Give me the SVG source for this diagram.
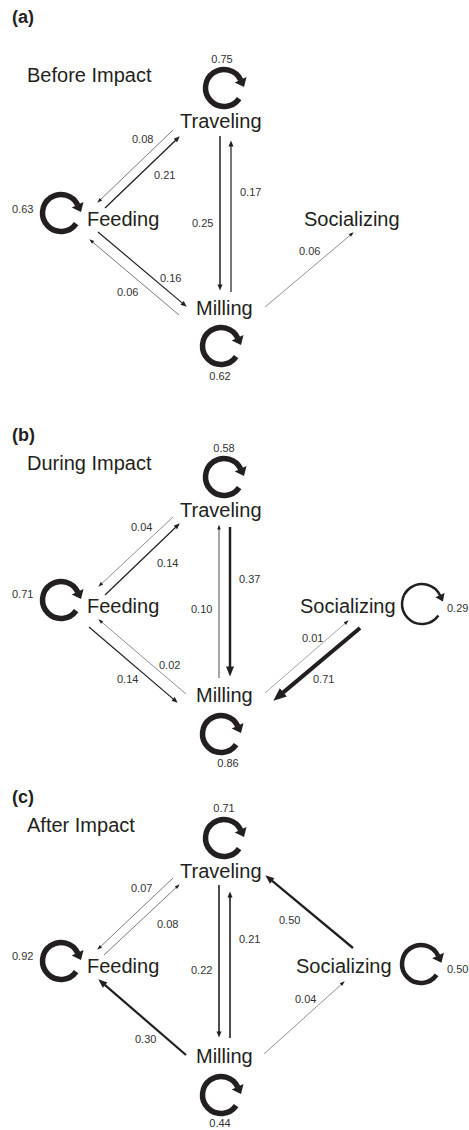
<svg xmlns="http://www.w3.org/2000/svg" width="469" height="1130" viewBox="0 0 469 1130">
<style>
.bg{fill:#fff}
.pl{font-family:"Liberation Sans",Arial,sans-serif;font-size:18px;font-weight:bold;fill:#231f20}
.ti{font-family:"Liberation Sans",Arial,sans-serif;font-size:20px;fill:#231f20}
.nd{font-family:"Liberation Sans",Arial,sans-serif;font-size:20px;fill:#231f20}
.lb{font-family:"Liberation Sans",Arial,sans-serif;font-size:11px;fill:#333}
.lm{text-anchor:middle}
.e{fill:none;stroke:#231f20;stroke-linecap:butt}
.lp{fill:none;stroke:#231f20;stroke-width:5.5}
.hd{fill:#231f20}
</style>
<defs>
<marker id="h5" markerUnits="userSpaceOnUse" orient="auto" refX="0.4" refY="0" markerWidth="6" markerHeight="4" overflow="visible"><path class="hd" d="M0,-1.75 L5,0 L0,1.75Z"/></marker>
<marker id="h6" markerUnits="userSpaceOnUse" orient="auto" refX="0.4" refY="0" markerWidth="7" markerHeight="6" overflow="visible"><path class="hd" d="M0,-2.5 L6,0 L0,2.5Z"/></marker>
<marker id="h9" markerUnits="userSpaceOnUse" orient="auto" refX="0.4" refY="0" markerWidth="10" markerHeight="8" overflow="visible"><path class="hd" d="M0,-3.5 L9,0 L0,3.5Z"/></marker>
<marker id="h10" markerUnits="userSpaceOnUse" orient="auto" refX="0.4" refY="0" markerWidth="11" markerHeight="9" overflow="visible"><path class="hd" d="M0,-4 L10,0 L0,4Z"/></marker>
<marker id="h13" markerUnits="userSpaceOnUse" orient="auto" refX="0.4" refY="0" markerWidth="14" markerHeight="12" overflow="visible"><path class="hd" d="M0,-5.5 L13,0 L0,5.5Z"/></marker>
<marker id="hl" markerUnits="userSpaceOnUse" orient="auto" refX="0.4" refY="0" markerWidth="9" markerHeight="14" overflow="visible"><path class="hd" d="M0,-6.5 L8,0 L0,6.5Z"/></marker>
<marker id="hls" markerUnits="userSpaceOnUse" orient="auto" refX="0.4" refY="0" markerWidth="8" markerHeight="11" overflow="visible"><path class="hd" d="M0,-5 L7,0 L0,5Z"/></marker>
</defs>
<rect class="bg" x="0" y="0" width="469" height="1130"/>

<!-- Panel titles -->
<g id="panel-a-title"><text class="pl" x="12" y="23">(a)</text><text class="ti" x="27" y="82">Before Impact</text></g>
<g id="panel-b-title"><text class="pl" x="12" y="441">(b)</text><text class="ti" x="27" y="470">During Impact</text></g>
<g id="panel-c-title"><text class="pl" x="12" y="803">(c)</text><text class="ti" x="27" y="832">After Impact</text></g>

<!-- Panel A nodes -->
<g id="a-traveling"><path class="lp" d="M239.15,98.61 A18.5,18.5 0 1 1 240.77,80.18" marker-end="url(#hl)"/><text class="lb lm" x="222" y="63">0.75</text><text class="nd" x="180" y="128">Traveling</text></g>
<g id="a-feeding"><path class="lp" d="M76.15,223.61 A18.5,18.5 0 1 1 77.77,205.18" marker-end="url(#hl)"/><text class="lb" x="12" y="213">0.63</text><text class="nd" x="87" y="226">Feeding</text></g>
<g id="a-socializing"><text class="nd" x="304" y="226">Socializing</text></g>
<g id="a-milling"><text class="nd" x="196" y="315">Milling</text><path class="lp" d="M236.15,356.61 A18.5,18.5 0 1 1 237.77,338.18" marker-end="url(#hl)"/><text class="lb lm" x="220" y="380">0.62</text></g>

<!-- Panel B nodes -->
<g id="b-traveling"><path class="lp" d="M239.15,487.61 A18.5,18.5 0 1 1 240.77,469.18" marker-end="url(#hl)"/><text class="lb lm" x="224" y="452">0.58</text><text class="nd" x="180" y="517">Traveling</text></g>
<g id="b-feeding"><path class="lp" d="M76.15,610.61 A18.5,18.5 0 1 1 77.77,592.18" marker-end="url(#hl)"/><text class="lb" x="12" y="598">0.71</text><text class="nd" x="87" y="613">Feeding</text></g>
<g id="b-socializing"><text class="nd" x="300" y="613">Socializing</text><path class="lp" style="stroke-width:2.5" d="M438.38,615.47 A20,20 0 1 1 440.13,595.55" marker-end="url(#hls)"/><text class="lb" x="447" y="612">0.29</text></g>
<g id="b-milling"><text class="nd" x="196" y="702">Milling</text><path class="lp" d="M236.15,744.61 A18.5,18.5 0 1 1 237.77,726.18" marker-end="url(#hl)"/><text class="lb lm" x="228" y="767">0.86</text></g>

<!-- Panel C nodes -->
<g id="c-traveling"><path class="lp" d="M239.15,848.61 A18.5,18.5 0 1 1 240.77,830.18" marker-end="url(#hl)"/><text class="lb lm" x="224" y="812">0.71</text><text class="nd" x="180" y="878">Traveling</text></g>
<g id="c-feeding"><path class="lp" d="M76.15,971.61 A18.5,18.5 0 1 1 77.77,953.18" marker-end="url(#hl)"/><text class="lb" x="12" y="960">0.92</text><text class="nd" x="87" y="973">Feeding</text></g>
<g id="c-socializing"><text class="nd" x="296" y="973">Socializing</text><path class="lp" style="stroke-width:4.5" d="M436.56,974.9 A19,19 0 1 1 438.22,955.97" marker-end="url(#hl)"/><text class="lb" x="447" y="973">0.50</text></g>
<g id="c-milling"><text class="nd" x="196" y="1063">Milling</text><path class="lp" d="M236.15,1105.61 A18.5,18.5 0 1 1 237.77,1087.18" marker-end="url(#hl)"/><text class="lb lm" x="220" y="1127">0.44</text></g>

<!-- Connectors -->
<g id="connectors">
<!-- A -->
<line class="e" x1="173" y1="130" x2="100.6" y2="199.5" stroke-width="0.6" marker-end="url(#h5)"/>
<line class="e" x1="105" y1="208" x2="175.7" y2="140.2" stroke-width="1.3" marker-end="url(#h6)"/>
<line class="e" x1="220" y1="136" x2="220" y2="285" stroke-width="1.5" marker-end="url(#h6)"/>
<line class="e" x1="231" y1="292" x2="231" y2="146" stroke-width="1.2" marker-end="url(#h6)"/>
<line class="e" x1="98" y1="232" x2="182.4" y2="303.1" stroke-width="1.2" marker-end="url(#h6)"/>
<line class="e" x1="179" y1="315" x2="92.8" y2="242.2" stroke-width="0.6" marker-end="url(#h5)"/>
<line class="e" x1="265" y1="307" x2="350.2" y2="235.2" stroke-width="0.5" marker-end="url(#h5)"/>
<!-- B -->
<line class="e" x1="173" y1="517" x2="101.7" y2="583.6" stroke-width="0.5" marker-end="url(#h5)"/>
<line class="e" x1="105" y1="595" x2="175.7" y2="527.2" stroke-width="1.2" marker-end="url(#h6)"/>
<line class="e" x1="219" y1="678" x2="219" y2="529" stroke-width="0.8" marker-end="url(#h5)"/>
<line class="e" x1="230" y1="527" x2="230" y2="667" stroke-width="2.5" marker-end="url(#h10)"/>
<line class="e" x1="89" y1="627" x2="173.4" y2="699.1" stroke-width="1.2" marker-end="url(#h6)"/>
<line class="e" x1="186" y1="694" x2="101.8" y2="622.2" stroke-width="0.5" marker-end="url(#h5)"/>
<line class="e" x1="265" y1="693" x2="345.2" y2="623.3" stroke-width="0.4" marker-end="url(#h5)"/>
<line class="e" x1="360" y1="628" x2="283" y2="692.6" stroke-width="4" marker-end="url(#h13)"/>
<!-- C -->
<line class="e" x1="173" y1="878" x2="100.6" y2="946.6" stroke-width="0.6" marker-end="url(#h5)"/>
<line class="e" x1="104" y1="955" x2="176.3" y2="887.4" stroke-width="0.6" marker-end="url(#h5)"/>
<line class="e" x1="219" y1="885" x2="219" y2="1032" stroke-width="1.6" marker-end="url(#h6)"/>
<line class="e" x1="230" y1="1038" x2="230" y2="897" stroke-width="1.6" marker-end="url(#h6)"/>
<line class="e" x1="353" y1="948" x2="271.9" y2="880.7" stroke-width="2.3" marker-end="url(#h9)"/>
<line class="e" x1="186" y1="1055" x2="104.8" y2="984.9" stroke-width="2.2" marker-end="url(#h9)"/>
<line class="e" x1="264" y1="1054" x2="341.3" y2="984.4" stroke-width="0.5" marker-end="url(#h5)"/>
</g>

<!-- Connector labels -->
<g id="connector-labels">
<text class="lb" x="132" y="143">0.08</text>
<text class="lb" x="154" y="179">0.21</text>
<text class="lb" x="192" y="227">0.25</text>
<text class="lb" x="240" y="196">0.17</text>
<text class="lb" x="160" y="282">0.16</text>
<text class="lb" x="117" y="296">0.06</text>
<text class="lb" x="299" y="255">0.06</text>

<text class="lb" x="131" y="531">0.04</text>
<text class="lb" x="157" y="567">0.14</text>
<text class="lb" x="191" y="613">0.10</text>
<text class="lb" x="239" y="583">0.37</text>
<text class="lb" x="159" y="669">0.02</text>
<text class="lb" x="117" y="683">0.14</text>
<text class="lb" x="302" y="642">0.01</text>
<text class="lb" x="313" y="683">0.71</text>

<text class="lb" x="131" y="892">0.07</text>
<text class="lb" x="157" y="928">0.08</text>
<text class="lb" x="239" y="943">0.21</text>
<text class="lb" x="191" y="974">0.22</text>
<text class="lb" x="279" y="924">0.50</text>
<text class="lb" x="135" y="1043">0.30</text>
<text class="lb" x="295" y="1003">0.04</text>
</g>
</svg>
